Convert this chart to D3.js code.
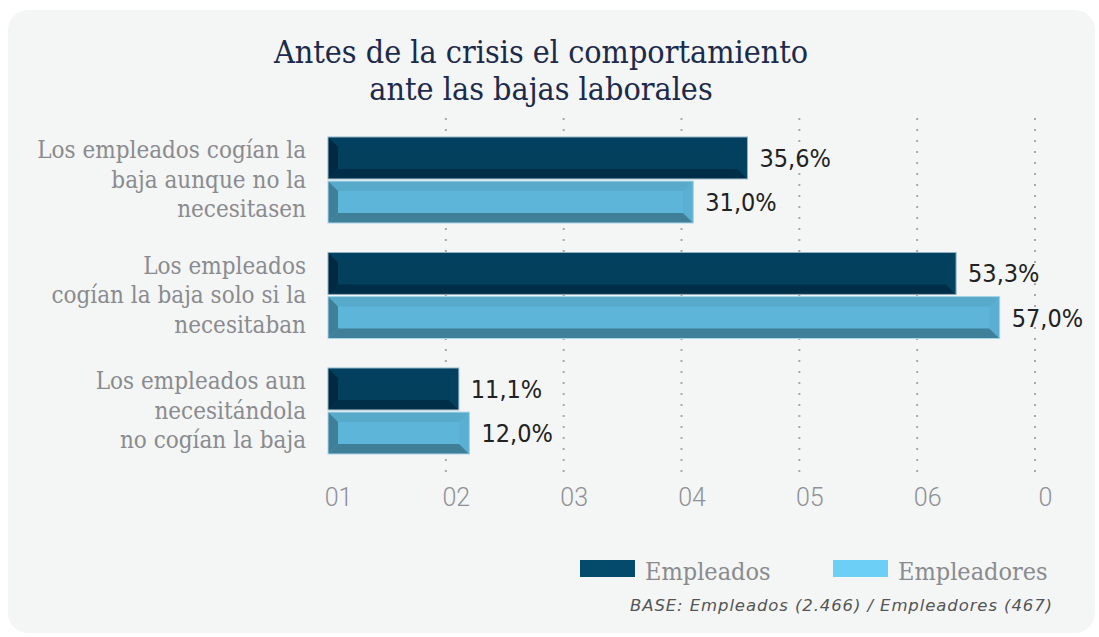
<!DOCTYPE html>
<html>
<head>
<meta charset="utf-8">
<script src="https://cdn.jsdelivr.net/npm/d3@7"></script>
<style>
  body { margin: 0; background: #fff; }
  svg { display: block; }
</style>
</head>
<body>
<div id="chart"></div>
<script>
// data
const categories = [
    ['Los empleados cogían la', 'baja aunque no la', 'necesitasen'],
    ['Los empleados', 'cogían la baja solo si la', 'necesitaban'],
    ['Los empleados aun', 'necesitándola', 'no cogían la baja']
];
const seriesNames = ['Empleados', 'Empleadores'];
const empleados = [35.6, 53.3, 11.1];
const empleadores = [31.0, 57.0, 12.0];
const tickValues = [0, 10, 20, 30, 40, 50, 60];
const tickLabels = ['01', '02', '03', '04', '05', '06', '0'];
const titleLines = ['Antes de la crisis el comportamiento', 'ante las bajas laborales'];
const baseNote = 'BASE: Empleados (2.466) / Empleadores (467)';

const width = 1099;
const height = 637;

const svg = d3.select('#chart').append('svg')
    .attr('width', width).attr('height', height);

// card background
svg.append('rect')
    .attr('x', 8).attr('y', 10)
    .attr('width', 1087).attr('height', 623)
    .attr('rx', 20)
    .attr('fill', '#f4f5f5');

// title
svg.append('g').selectAll('text')
    .data(titleLines)
    .enter()
    .append('text')
    .attr('x', 541)
    .attr('y', (d, i) => 63 + i * 37)
    .attr('text-anchor', 'middle')
    .attr('font-family', 'DejaVu Serif')
    .attr('font-stretch', 'condensed')
    .attr('font-size', 32)
    .attr('fill', '#1c2a4b')
    .text(d => d);

const x = d3.scaleLinear().domain([0, 60]).range([328, 1035]);
const y = d3.scaleBand()
    .domain(d3.range(categories.length))
    .range([122.25, 468.75])
    .paddingInner(0.2554)
    .paddingOuter(0.1277);
const ySub = d3.scaleBand()
    .domain(seriesNames)
    .range([0, y.bandwidth()])
    .paddingInner(0.05);

// dotted grid
svg.append('g').selectAll('line')
    .data(tickValues.slice(1))
    .enter()
    .append('line')
    .attr('x1', d => x(d)).attr('x2', d => x(d))
    .attr('y1', 118).attr('y2', 478)
    .attr('stroke', '#a7a9ad')
    .attr('stroke-width', 2)
    .attr('stroke-dasharray', '2,9');

// x axis
const axis = svg.append('g')
    .attr('transform', 'translate(10,' + 485 + ')')
    .call(d3.axisBottom(x).tickValues(tickValues).tickSize(0)
        .tickFormat((d, i) => tickLabels[i]));
axis.select('.domain').remove();
axis.selectAll('text')
    .attr('font-family', 'Roboto')
    .attr('font-size', 25)
    .attr('font-weight', 300)
    .attr('fill', '#8f9196');

// category labels
const catG = svg.append('g').selectAll('text')
    .data(categories)
    .enter()
    .append('text')
    .attr('text-anchor', 'end')
    .attr('font-family', 'DejaVu Serif')
    .attr('font-stretch', 'condensed')
    .attr('font-size', 24)
    .attr('fill', '#8a8b8e');
catG.selectAll('tspan')
    .data((d, i) => d.map(line => ({ line, i })))
    .enter()
    .append('tspan')
    .attr('x', 306)
    .attr('y', (d, j) => y(d.i) + y.bandwidth() / 2 - 22 + j * 29.5)
    .text(d => d.line);

// bevel colours
const palettes = {
    Empleados: { main: '#03405e', top: '#03405f', bottom: '#002d47', left: '#012a42', right: '#03425f', edge: '#8fb3c4' },
    Empleadores: { main: '#5db5da', top: '#58aacb', bottom: '#3f7f98', left: '#3f7f98', right: '#5aafd2', edge: '#a9d6e9' }
};

const rows = [];
categories.forEach((c, i) => {
    rows.push({ i, s: 'Empleados', v: empleados[i] });
    rows.push({ i, s: 'Empleadores', v: empleadores[i] });
});

const bar = svg.append('g').selectAll('g')
    .data(rows)
    .enter()
    .append('g')
    .attr('transform', d => 'translate(' + x(0) + ',' + (y(d.i) + ySub(d.s)) + ')');

const b = 10;
const h = ySub.bandwidth();
bar.append('rect')
    .attr('width', d => x(d.v) - x(0))
    .attr('height', h)
    .attr('fill', d => palettes[d.s].main);
// top bevel
bar.append('polygon')
    .attr('points', d => { const w = x(d.v) - x(0); return [[0, 0], [w, 0], [w - b, b], [b, b]].join(' '); })
    .attr('fill', d => palettes[d.s].top);
// bottom bevel
bar.append('polygon')
    .attr('points', d => { const w = x(d.v) - x(0); return [[0, h], [w, h], [w - b, h - b], [b, h - b]].join(' '); })
    .attr('fill', d => palettes[d.s].bottom);
// left bevel
bar.append('polygon')
    .attr('points', [[0, 0], [b, b], [b, h - b], [0, h]].join(' '))
    .attr('fill', d => palettes[d.s].left);
// right bevel
bar.append('polygon')
    .attr('points', d => { const w = x(d.v) - x(0); return [[w, 0], [w - b, b], [w - b, h - b], [w, h]].join(' '); })
    .attr('fill', d => palettes[d.s].right);
bar.append('rect')
    .attr('width', d => x(d.v) - x(0))
    .attr('height', h)
    .attr('fill', 'none')
    .attr('stroke', d => palettes[d.s].edge)
    .attr('stroke-width', 1);

// value labels
bar.append('text')
    .attr('x', d => x(d.v) - x(0) + 12)
    .attr('y', h / 2 + 9)
    .attr('font-family', 'DejaVu Sans')
    .attr('font-stretch', 'condensed')
    .attr('font-size', 25)
    .attr('fill', '#222')
    .text(d => d.v.toFixed(1).replace('.', ',') + '%');

// legend
const legendColors = ['#044a6a', '#6ccff5'];
const leg = svg.append('g').selectAll('g')
    .data(seriesNames)
    .enter()
    .append('g')
    .attr('transform', (d, i) => 'translate(' + (580 + i * 253) + ',560)');
leg.append('rect')
    .attr('width', 55).attr('height', 17)
    .attr('fill', (d, i) => legendColors[i]);
leg.append('text')
    .attr('x', 65).attr('y', 20)
    .attr('font-family', 'DejaVu Serif')
    .attr('font-stretch', 'condensed')
    .attr('font-size', 25)
    .attr('fill', '#8a8b8e')
    .text(d => d);

svg.append('text')
    .attr('x', 1052).attr('y', 611)
    .attr('text-anchor', 'end')
    .attr('font-family', 'DejaVu Sans')
    .attr('font-style', 'italic')
    .attr('font-size', 16.5)
    .attr('textLength', 422)
    .attr('lengthAdjust', 'spacing')
    .attr('fill', '#555')
    .text(baseNote);
</script>
</body>
</html>
